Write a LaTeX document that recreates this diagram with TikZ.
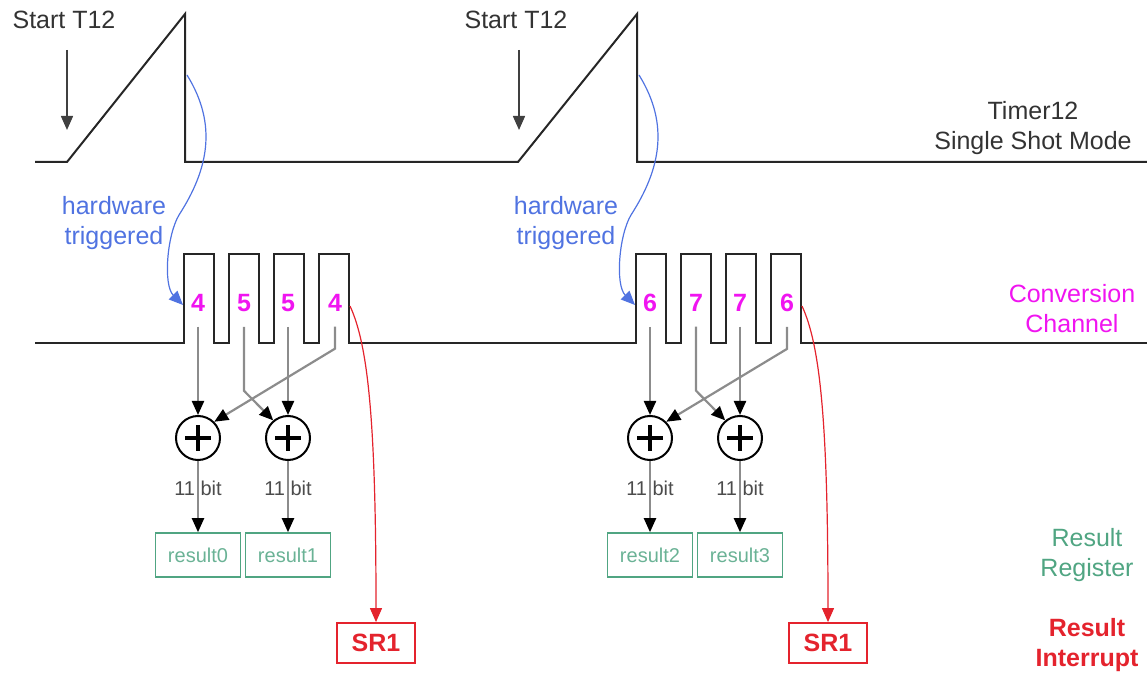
\documentclass[tikz,border=0pt]{standalone}
\usepackage{fontspec}
\setmainfont{Liberation Sans}
\usepackage{tikz}
\usetikzlibrary{positioning, arrows.meta}

\definecolor{hwblue}{RGB}{80,115,225}
\definecolor{chmag}{RGB}{240,20,240}
\definecolor{resgreen}{RGB}{80,165,130}
\definecolor{intred}{RGB}{228,35,45}

\begin{document}
\begin{tikzpicture}[
    x=0.5pt, y=-0.5pt,
    every node/.style={font=\fontsize{12.5}{15}\selectfont, text=black!80},
    wave/.style={line width=1pt, black!85},
    startarr/.style={-{Triangle[length=7pt, width=6pt]}, line width=0.8pt, black!75},
    sig/.style={-{Triangle[length=7pt, width=6pt, color=black]}, line width=1.1pt, draw=black!45},
    trig/.style={-{Triangle[length=7pt, width=6pt]}, line width=0.6pt, hwblue},
    irq/.style={-{Triangle[length=7pt, width=6pt]}, line width=0.6pt, intred},
    chan/.style={text=chmag, font=\bfseries\fontsize{12.5}{15}\selectfont},
    adder/.style={circle, draw, line width=1pt, minimum size=22pt, inner sep=0pt,
        path picture={
            \draw[line width=1.6pt] ([xshift=-6.5pt]path picture bounding box.center) -- ([xshift=6.5pt]path picture bounding box.center);
            \draw[line width=1.6pt] ([yshift=-6.5pt]path picture bounding box.center) -- ([yshift=6.5pt]path picture bounding box.center);
        }},
    bits/.style={font=\fontsize{10}{12}\selectfont, text=black!70, inner sep=1pt},
    regbox/.style={rectangle, draw=resgreen, line width=0.8pt, text=resgreen!85, minimum width=42.5pt, minimum height=22pt, inner sep=0pt, font=\fontsize{10}{12}\selectfont},
    irqbox/.style={rectangle, draw=intred, line width=0.9pt, text=intred, minimum width=39pt, minimum height=20pt, inner sep=0pt, font=\bfseries\fontsize{12.5}{15}\selectfont},
    side/.style={align=center}
]
\useasboundingbox (0,0) rectangle (1147,673);

% timer and channel waveforms
\draw[wave] (35,162) -- (67,162) -- (185,14) -- (185,162) -- (518,162) -- (637,14) -- (637,162) -- (1147,162);
\draw[wave] (35,343) foreach \x in {184,229,274,319,636,681,726,771} { -- (\x,343) -- (\x,254) -- (\x+30,254) -- (\x+30,343) } -- (1147,343);

\foreach \k/\s/\a/\b/\ra/\rb in {0/0/4/5/result0/result1, 1/452/6/7/result2/result3} {
    \node (start\k) at (64+\s,20) {Start T12};
    \coordinate (go\k) at (67+\s,130);
    \draw[startarr, shorten <=7pt] (start\k.south -| go\k) -- (go\k);

    % hardware trigger
    \node[side, text=hwblue] (hw\k) at (114+\s,223) {hardware\\triggered};
    \coordinate (fall\k) at (187+\s,75);
    \coordinate (hit\k) at (183+\s,305);
    \draw[trig] (fall\k) .. controls (218+\s,125) and (208+\s,170) .. (179+\s,215)
        .. controls (167+\s,235) and (163+\s,285) .. (hit\k);

    % channels
    \node[chan] (d\k1) at (198+\s,303) {\a};
    \node[chan] (d\k2) at (244+\s,303) {\b};
    \node[chan] (d\k3) at (288+\s,303) {\b};
    \node[chan] (d\k4) at (335+\s,303) {\a};

    \node[adder] (sa\k) at (198+\s,438) {};
    \node[adder] (sb\k) at (288+\s,438) {};

    \draw[sig] ([yshift=-4pt]d\k1.south) -- (sa\k.north);
    \draw[sig] ([yshift=-4pt]d\k2.south) -- ++(0,64) -- (sb\k.130);
    \draw[sig] ([yshift=-4pt]d\k3.south) -- (sb\k.north);
    \draw[sig] ([yshift=-4pt]d\k4.south) -- ++(0,22) -- (sa\k.45);

    \node[regbox] (r\k0) at (198+\s,555) {\ra};
    \node[regbox] (r\k1) at (288+\s,555) {\rb};
    \draw[sig] (sa\k) -- node[pos=0.38, bits] {11 bit} (r\k0);
    \draw[sig] (sb\k) -- node[pos=0.38, bits] {11 bit} (r\k1);

    % service request
    \node[irqbox] (sr\k) at (376+\s,643) {SR1};
    \coordinate (q\k) at (350+\s,306);
    \draw[irq] (q\k) .. controls (368+\s,345) and (376+\s,420) .. (sr\k.north);
}

\node[side] (timer) at (1033,128) {Timer12\\Single Shot Mode};
\node[side, text=chmag] (chname) at (1072,309) {Conversion\\Channel};
\node[side, text=resgreen] (regname) at (1087,555) {Result\\Register};
\node[side, text=intred, font=\bfseries\fontsize{12.5}{15}\selectfont] (irqname) at (1087,645) {Result\\Interrupt};

\end{tikzpicture}
\end{document}
